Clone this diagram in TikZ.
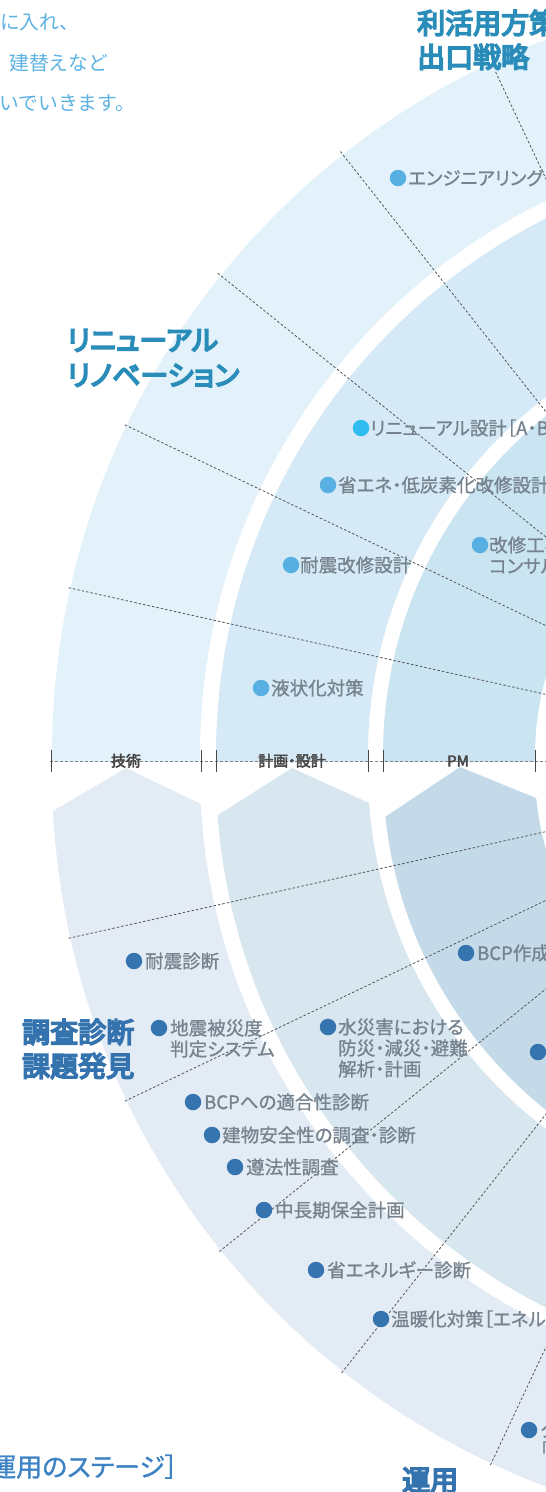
\documentclass[tikz,border=0pt]{standalone}
\usepackage{fontspec}
\newfontfamily\jp[RawFeature=+palt,FakeBold=1]{Noto Sans CJK JP}
\newfontfamily\jpn{Noto Sans CJK JP}
\newfontfamily\jpb[RawFeature=+palt,FakeBold=6]{Noto Sans CJK JP}
\newfontfamily\jpm[RawFeature=+palt,FakeBold=3]{Noto Sans CJK JP}
\newfontfamily\jps[RawFeature=+palt,FakeBold=1.2]{Noto Sans CJK JP}
\usetikzlibrary{calc}
\definecolor{ringTa}{HTML}{E3F2FA}
\definecolor{ringTb}{HTML}{D5EAF6}
\definecolor{ringTc}{HTML}{CAE4F2}
\definecolor{ringBa}{HTML}{E3ECF5}
\definecolor{ringBb}{HTML}{D8E6F0}
\definecolor{ringBc}{HTML}{C4DAE8}
\definecolor{titleTc}{HTML}{2A8CB8}
\definecolor{titleBc}{HTML}{3473AE}
\definecolor{stagec}{HTML}{3D82C4}
\definecolor{dotTc}{HTML}{58B0E2}
\definecolor{dotTTc}{HTML}{30BCEE}
\definecolor{dotBc}{HTML}{3674AF}
\definecolor{itemtxt}{HTML}{76828D}
\definecolor{paratxt}{HTML}{5DB2E2}
\definecolor{axistxt}{HTML}{474747}
\definecolor{dashcol}{HTML}{555555}
\tikzset{
  itemtext/.style={anchor=base west, inner sep=0pt, text=itemtxt, font=\jp\fontsize{18.5}{22}\selectfont},
  dotT/.style={circle, fill=dotTc, minimum size=16.5pt, inner sep=0pt},
  dotTT/.style={circle, fill=dotTTc, minimum size=16.5pt, inner sep=0pt},
  dotB/.style={circle, fill=dotBc, minimum size=16.5pt, inner sep=0pt},
  titleT/.style={anchor=base west, inner sep=0pt, text=titleTc, font=\jpb\fontsize{28}{30}\selectfont},
  titleB/.style={anchor=base west, inner sep=0pt, text=titleBc, font=\jpb\fontsize{28}{30}\selectfont},
  paratext/.style={anchor=base west, inner sep=0pt, text=paratxt, font=\jpn\fontsize{19.8}{22}\selectfont},
  axlabel/.style={anchor=base, inner sep=0pt, text=axistxt, font=\jpm\fontsize{15}{16}\selectfont},
  dashline/.style={draw=dashcol, line width=0.8pt, dash pattern=on 2.5pt off 2pt},
  axisline/.style={draw=gray, line width=1pt, dash pattern=on 3pt off 2pt},
  tickline/.style={draw=axistxt, line width=1pt}
}
\begin{document}
\begin{tikzpicture}[x=1pt,y=-1pt]
\useasboundingbox (0,0) rectangle (546,1492);
\clip (0,0) rectangle (546,1492);
\coordinate (ct) at (817,755);
\coordinate (cb) at (817,771);

% top rings
\begin{scope}
\clip (-10,-10) rectangle (600,761);
\fill[ringTa,even odd rule] (ct) circle[radius=765pt] (ct) circle[radius=617pt];
\fill[ringTb,even odd rule] (ct) circle[radius=601pt] (ct) circle[radius=449pt];
\fill[ringTc,even odd rule] (ct) circle[radius=434pt] (ct) circle[radius=282pt];
\end{scope}

% bottom rings (chevron tops)
\begin{scope}
\clip (-20,1600) -- (-20,811) -- (53,811) -- (126,768) -- (201,804) -- (600,804) -- (600,1600) -- cycle;
\fill[ringBa,even odd rule] (cb) circle[radius=765pt] (cb) circle[radius=617pt];
\end{scope}
\begin{scope}
\clip (-20,1600) -- (-20,815) -- (218,815) -- (292,768) -- (369,803) -- (600,803) -- (600,1600) -- cycle;
\fill[ringBb,even odd rule] (cb) circle[radius=601pt] (cb) circle[radius=449pt];
\end{scope}
\begin{scope}
\clip (-20,1600) -- (-20,817) -- (385,817) -- (460,767) -- (536,798) -- (600,798) -- (600,1600) -- cycle;
\fill[ringBc,even odd rule] (cb) circle[radius=434pt] (cb) circle[radius=282pt];
\end{scope}

% radial dashed lines
\foreach \a/\n/\r in {12.6/1/767,25.5/2/767,38.8/3/769,51.7/4/769,64.8/5/755}{
  \coordinate (lt\n a) at ($(ct)+({-\r*cos(\a)},{-\r*sin(\a)})$);
  \coordinate (lt\n b) at ($(ct)+({-200*cos(\a)},{-200*sin(\a)})$);
  \draw[dashline] (lt\n a) -- (lt\n b);
}
\foreach \a/\n in {12.6/1,25.5/2,38.8/3,51.7/4,64.8/5}{
  \coordinate (lb\n a) at ($(cb)+({-767*cos(\a)},{767*sin(\a)})$);
  \coordinate (lb\n b) at ($(cb)+({-200*cos(\a)},{200*sin(\a)})$);
  \draw[dashline] (lb\n a) -- (lb\n b);
}

% axis
\coordinate (axa) at (50,761);
\coordinate (axb) at (546,761);
\draw[axisline] (axa) -- (axb);
\foreach \x in {51,201,216,368,383,535}{
  \draw[tickline] (\x,750) -- (\x,772);
}
\node[axlabel] (ax1) at (126,766.5) {技術};
\node[axlabel] (ax2) at (292,766.5) {計画・設計};
\node[axlabel] (ax3) at (458,766.5) {PM};

% paragraph text (top left)
\node[paratext] (p1) at (0,29.5) {に入れ、};
\node[paratext] (p2) at (9,70.5) {建替えなど};
\node[paratext] (p3) at (-1,110.5) {いでいきます。};

% titles
\node[titleT] (tt1) at (417,33.5) {利活用方策};
\node[titleT] (tt2) at (417,67.5) {出口戦略};
\node[titleT] (tt3) at (67,350.5) {リニューアル};
\node[titleT] (tt4) at (67,385.5) {リノベーション};
\node[titleB] (tb1) at (22,1042.5) {調査診断};
\node[titleB] (tb2) at (22,1076.5) {課題発見};
\node[titleB] (tb3) at (402,1490.5) {運用};
\node[anchor=base east, inner sep=0pt, text=stagec, font=\jps\fontsize{26}{28}\selectfont] (stage) at (178,1476.5) {［運用のステージ］};

% top items
\node[dotT] (d1) at (398,178) {};
\node[itemtext] (i1) at (408,185) {エンジニアリング};
\node[dotTT] (d2) at (361,428) {};
\node[itemtext] (i2) at (370,435) {リニューアル設計［A・B・C］};
\node[dotT] (d3) at (328,485) {};
\node[itemtext] (i3) at (338,492) {省エネ・低炭素化改修設計};
\node[dotT] (d4) at (480,545) {};
\node[itemtext] (i4a) at (489,552) {改修工事};
\node[itemtext] (i4b) at (489,573) {コンサル};
\node[dotT] (d5) at (291,565) {};
\node[itemtext] (i5) at (300,572) {耐震改修設計};
\node[dotT] (d6) at (261,688) {};
\node[itemtext] (i6) at (271,695) {液状化対策};

% bottom items
\node[dotB] (e1) at (134,961) {};
\node[itemtext] (j1) at (145,968) {耐震診断};
\node[dotB] (e2) at (466,953) {};
\node[itemtext] (j2) at (477,960) {BCP作成};
\node[dotB] (e3) at (159,1028) {};
\node[itemtext] (j3a) at (170,1035) {地震被災度};
\node[itemtext] (j3b) at (170,1056) {判定システム};
\node[dotB] (e4) at (328,1027) {};
\node[itemtext] (j4a) at (338,1034) {水災害における};
\node[itemtext] (j4b) at (338,1055) {防災・減災・避難};
\node[itemtext] (j4c) at (338,1076) {解析・計画};
\node[dotB] (e5) at (538,1052) {};
\node[dotB] (e6) at (193,1102) {};
\node[itemtext] (j6) at (204,1109) {BCPへの適合性診断};
\node[dotB] (e7) at (212,1135) {};
\node[itemtext] (j7) at (222,1142) {建物安全性の調査・診断};
\node[dotB] (e8) at (235,1167) {};
\node[itemtext] (j8) at (246,1174) {遵法性調査};
\node[dotB] (e9) at (264,1210) {};
\node[itemtext] (j9) at (275,1217) {中長期保全計画};
\node[dotB] (e10) at (316,1270) {};
\node[itemtext] (j10) at (327,1277) {省エネルギー診断};
\node[dotB] (e11) at (381,1319) {};
\node[itemtext] (j11) at (391,1326) {温暖化対策［エネルギー};
\node[dotB] (e12) at (529,1430) {};
\node[itemtext] (j12a) at (540,1437) {ク};
\node[itemtext] (j12b) at (540,1457) {「};
\end{tikzpicture}
\end{document}
